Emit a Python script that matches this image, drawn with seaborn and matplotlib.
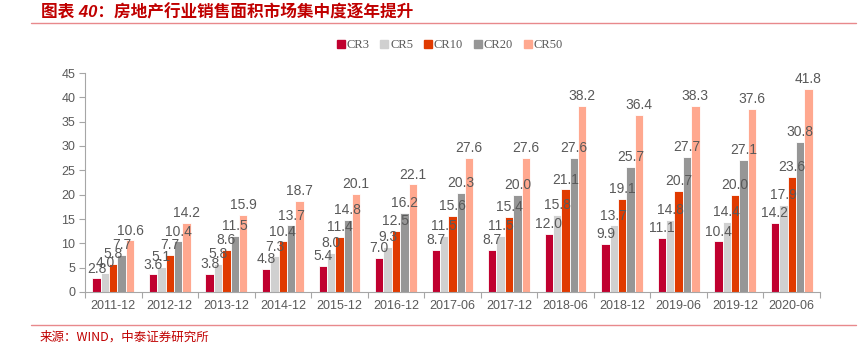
import matplotlib
matplotlib.use("Agg")
import matplotlib.pyplot as plt
import seaborn as sns
import pandas as pd
from matplotlib.lines import Line2D

periods = ["2011-12", "2012-12", "2013-12", "2014-12", "2015-12", "2016-12",
           "2017-06", "2017-12", "2018-06", "2018-12", "2019-06", "2019-12", "2020-06"]
cr3 = [2.8, 3.6, 3.8, 4.8, 5.4, 7.0, 8.7, 8.7, 12.0, 9.9, 11.1, 10.4, 14.2]
cr5 = [4.0, 5.1, 5.8, 7.3, 8.0, 9.3, 11.5, 11.5, 15.8, 13.7, 14.8, 14.4, 17.9]
cr10 = [5.8, 7.7, 8.6, 10.4, 11.4, 12.5, 15.6, 15.4, 21.1, 19.1, 20.7, 20.0, 23.6]
cr20 = [7.7, 10.4, 11.5, 13.7, 14.8, 16.2, 20.3, 20.0, 27.6, 25.7, 27.7, 27.1, 30.8]
cr50 = [10.6, 14.2, 15.9, 18.7, 20.1, 22.1, 27.6, 27.6, 38.2, 36.4, 38.3, 37.6, 41.8]
series_names = ["CR3", "CR5", "CR10", "CR20", "CR50"]
colors = ["#C0002F", "#D0D0D0", "#E03A00", "#969696", "#FFA88F"]

title_text = "图表 40：房地产行业销售面积市场集中度逐年提升"
source_text = "来源：WIND，中泰证券研究所"

sns.set_theme(style="white")
plt.rcParams["font.family"] = ["Liberation Sans", "Noto Sans CJK SC", "DejaVu Sans"]

rows = []
for name, vals in zip(series_names, [cr3, cr5, cr10, cr20, cr50]):
    for p, v in zip(periods, vals):
        rows.append({"period": p, "series": name, "value": v})
df = pd.DataFrame(rows)

fig = plt.figure(figsize=(8.64, 3.5), dpi=100)
ax = fig.add_axes([85 / 864, 1 - 292 / 350, (820 - 85) / 864, (292 - 73) / 350])

sns.barplot(data=df, x="period", y="value", hue="series", order=periods,
            hue_order=series_names, palette=colors, saturation=1, width=0.74,
            edgecolor="white", linewidth=0.6, legend=False, ax=ax)

text_gray = "#595959"
axis_gray = "#A6A6A6"
for cont in ax.containers:
    ax.bar_label(cont, fmt="%.1f", padding=2, fontsize=10, color=text_gray)

ax.set_xlim(-0.5, len(periods) - 0.5)
ax.set_ylim(0, 45)
ax.set_yticks(range(0, 46, 5))
ax.set_xlabel("")
ax.set_ylabel("")
ax.set_xticks(range(len(periods)))
ax.set_xticklabels(periods)
ax.set_xticks([i + 0.5 for i in range(-1, len(periods))], minor=True)
ax.tick_params(axis="x", which="major", length=0, pad=6, labelsize=9, labelcolor=text_gray)
ax.tick_params(axis="x", which="minor", length=4, width=0.8, color=axis_gray, direction="out", bottom=True)
ax.tick_params(axis="y", length=4, width=0.8, color=axis_gray, direction="out", left=True,
               labelsize=9, labelcolor=text_gray, pad=3)
for side in ["top", "right"]:
    ax.spines[side].set_visible(False)
for side in ["left", "bottom"]:
    ax.spines[side].set_color(axis_gray)
    ax.spines[side].set_linewidth(0.8)
ax.grid(False)

handles = [Line2D([], [], marker="s", linestyle="none", markersize=6,
                  markerfacecolor=c, markeredgecolor=c) for c in colors]
fig.legend(handles, series_names, loc="center", bbox_to_anchor=(450 / 864, 1 - 45 / 350),
           ncol=5, frameon=False, handlelength=0.55, handletextpad=0.2, columnspacing=0.9,
           prop={"family": "Liberation Serif", "size": 9}, labelcolor=text_gray)

red = "#C00000"
fig.text(41 / 864, 1 - 12 / 350, title_text, fontsize=12, fontweight="bold", style="italic",
         color=red, va="center", ha="left",
         family=["Liberation Sans", "Noto Sans CJK SC", "DejaVu Sans"])
fig.add_artist(Line2D([31 / 864, 856 / 864], [1 - 22.5 / 350] * 2, color="#E8898C", linewidth=1))
fig.add_artist(Line2D([31 / 864, 856 / 864], [1 - 324.5 / 350] * 2, color="#E8898C", linewidth=1))
fig.text(40 / 864, 1 - 337 / 350, source_text, fontsize=9, color=red, va="center", ha="left",
         family=["Noto Sans CJK SC", "DejaVu Sans"])

fig.savefig("out.png", dpi=100, facecolor="white")
